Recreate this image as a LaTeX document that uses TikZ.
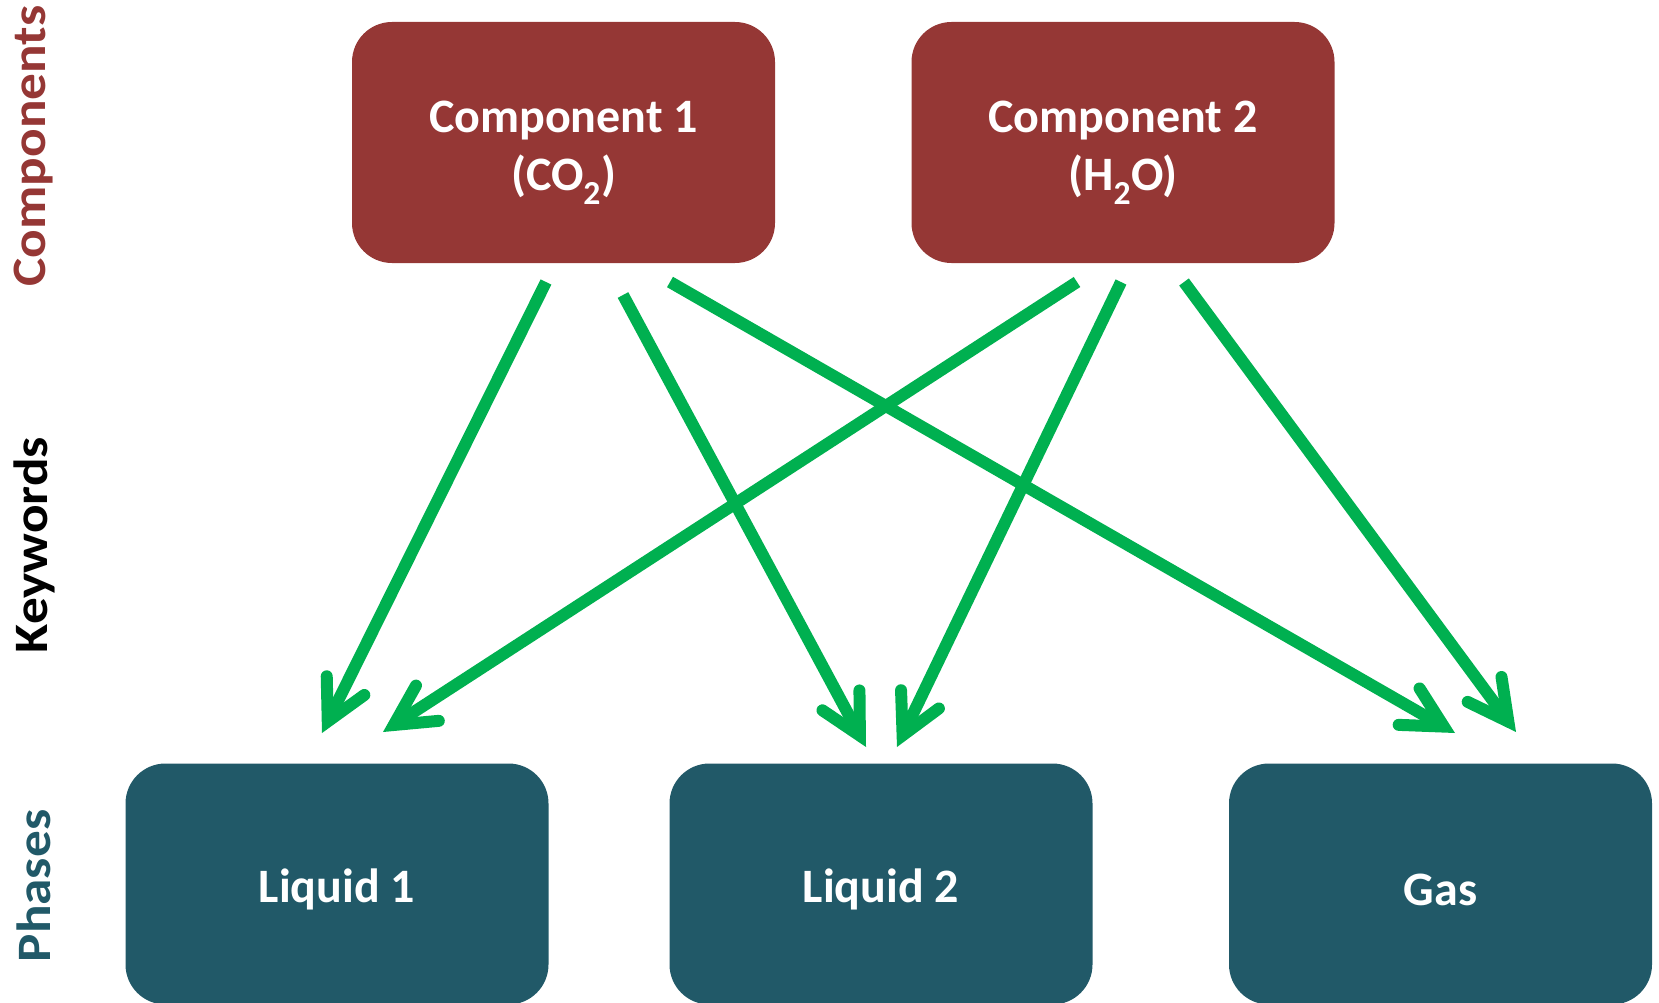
\documentclass[tikz,border=0pt]{standalone}
\usepackage{fontspec}
\setmainfont{Carlito}
\usetikzlibrary{arrows.meta}
\definecolor{compred}{RGB}{149,55,53}
\definecolor{phaseteal}{RGB}{33,89,104}
\definecolor{linkgreen}{RGB}{0,176,80}
\tikzset{
  compbox/.style={draw=none, fill=compred, rounded corners=40pt, minimum width=423pt,
    minimum height=241pt, text=white, align=center, inner sep=0pt,
    font=\fontsize{48}{58}\selectfont\bfseries},
  phasebox/.style={compbox, fill=phaseteal},
  sidelabel/.style={rotate=90, inner sep=0pt, font=\fontsize{48}{52}\selectfont\bfseries},
  link/.style={draw=linkgreen, line width=12pt,
    -{Straight Barb[length=40pt, width=42pt, line cap=round, line join=miter]}},
}
\newcommand{\sidetext}[1]{\scalebox{1.11}[1]{#1}}
\begin{document}
\begin{tikzpicture}[x=1pt, y=-1pt]
  \useasboundingbox (0,0) rectangle (1659,1003);

  % row labels
  \node[sidelabel, text=compred]    (lblcomp)  at (34,146) {\sidetext{Components}};
  \node[sidelabel, text=black]      (lblkey)   at (34,545) {\sidetext{Keywords}};
  \node[sidelabel, text=phaseteal]  (lblphase) at (34,886) {\sidetext{Phases}};

  % components
  \node[compbox] (comp1) at (563.5,142.5) {\rule{0pt}{52pt}Component 1\\(CO\textsubscript{2})};
  \node[compbox] (comp2) at (1123,142.5)  {\rule{0pt}{52pt}Component 2\\(H\textsubscript{2}O)};

  % phases
  \node[phasebox] (liq1) at (337,884)  {\rule{0pt}{44pt}Liquid 1};
  \node[phasebox] (liq2) at (881,884)  {\rule{0pt}{44pt}Liquid 2};
  \node[phasebox] (gas)  at (1440.5,884) {\rule{0pt}{44pt}Gas};

  % connector end points just outside the boxes
  \coordinate (c1a) at (546,282);
  \coordinate (c1b) at (623,295);
  \coordinate (c1c) at (670,282);
  \coordinate (c2a) at (1077,282);
  \coordinate (c2b) at (1121,282);
  \coordinate (c2c) at (1184,282);
  \coordinate (l1a) at (322,733);
  \coordinate (l1b) at (383,732);
  \coordinate (l2a) at (866,747);
  \coordinate (l2b) at (897,747);
  \coordinate (ga)  at (1455,733);
  \coordinate (gb)  at (1516,732);

  % which component appears in which phase
  \draw[link] (c1a) -- (l1a);
  \draw[link] (c1b) -- (l2a);
  \draw[link] (c1c) -- (ga);
  \draw[link] (c2a) -- (l1b);
  \draw[link] (c2b) -- (l2b);
  \draw[link] (c2c) -- (gb);
\end{tikzpicture}
\end{document}
